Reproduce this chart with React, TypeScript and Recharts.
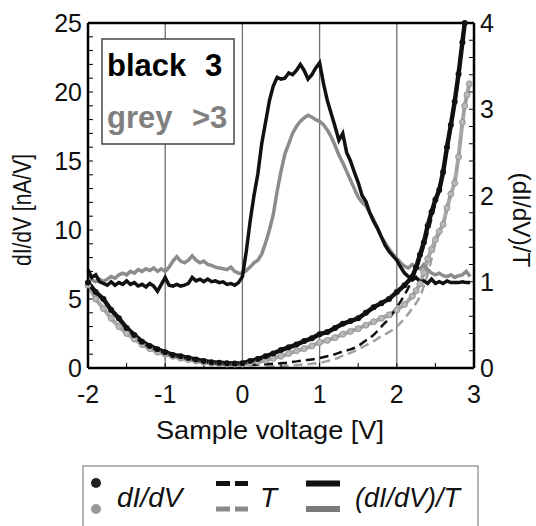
import * as React from "react";
import { LineChart, XAxis, YAxis, Line, ReferenceLine } from "recharts";

// ---- axis ticks ----
const xTicks = [-2, -1.5, -1, -0.5, 0, 0.5, 1, 1.5, 2, 2.5, 3];
const leftTicks = [0, 1, 2, 3, 4, 5, 6, 7, 8, 9, 10, 11, 12, 13, 14, 15, 16, 17, 18, 19, 20, 21, 22, 23, 24, 25];
const rightTicks = [0, 0.2, 0.4, 0.6, 0.8, 1, 1.2, 1.4, 1.6, 1.8, 2, 2.2, 2.4, 2.6, 2.8, 3, 3.2, 3.4, 3.6, 3.8, 4];
const gridX = [-1, 0, 1, 2];

// ---- (dI/dV)/T, right axis ----
const ratioV = [
  -2, -1.95, -1.9, -1.85, -1.8, -1.75, -1.7, -1.65, -1.6, -1.55, -1.5, -1.45, -1.4, -1.35, -1.3, -1.25, -1.2, -1.15, -1.1, -1.05,
  -1, -0.95, -0.9, -0.85, -0.8, -0.75, -0.7, -0.65, -0.6, -0.55, -0.5, -0.45, -0.4, -0.35, -0.3, -0.25, -0.2, -0.15, -0.1, -0.05,
  0, 0.05, 0.1, 0.15, 0.2, 0.25, 0.3, 0.35, 0.4, 0.45, 0.5, 0.55, 0.6, 0.65, 0.7, 0.75, 0.8, 0.85, 0.9, 0.95,
  1, 1.05, 1.1, 1.15, 1.2, 1.25, 1.3, 1.35, 1.4, 1.45, 1.5, 1.55, 1.6, 1.65, 1.7, 1.75, 1.8, 1.85, 1.9, 1.95,
  2, 2.05, 2.1, 2.15, 2.2, 2.25, 2.3, 2.35, 2.4, 2.45, 2.5, 2.55, 2.6, 2.65, 2.7, 2.75, 2.8, 2.85, 2.9, 2.95,
];
const ratioBlack = [
  1.14, 1.05, 1.08, 1.0, 0.98, 0.96, 1.0, 0.96, 0.99, 0.97, 1.01, 0.97, 0.99, 0.95, 0.97, 0.94, 0.98, 0.95, 0.89, 0.97,
  1.05, 0.96, 0.95, 0.97, 0.95, 0.96, 0.98, 1.05, 1.01, 1.03, 1.0, 1.03, 1.0, 1.01, 0.99, 1.0, 0.97, 0.98, 0.96, 0.99,
  1.06, 1.35, 1.7, 2.0, 2.25, 2.6, 2.85, 3.1, 3.27, 3.37, 3.35, 3.36, 3.42, 3.4, 3.45, 3.52, 3.45, 3.35, 3.4, 3.48,
  3.54, 3.3, 3.1, 2.95, 2.8, 2.64, 2.72, 2.5, 2.4, 2.27, 2.15, 2.0, 1.93, 1.8, 1.7, 1.62, 1.52, 1.42, 1.35, 1.3,
  1.25, 1.17, 1.1, 1.06, 1.02, 1.05, 1.0, 1.01, 0.98, 1.03, 0.98, 1.0, 0.98, 1.01, 0.99, 0.99, 0.99, 1.0, 0.99, 0.99,
];
const ratioGrey = [
  1.12, 1.02, 1.0, 1.03, 1.0, 1.03, 1.06, 1.04, 1.08, 1.1, 1.08, 1.12, 1.1, 1.14, 1.12, 1.15, 1.13, 1.16, 1.12, 1.15,
  1.12, 1.17, 1.24, 1.29, 1.24, 1.22, 1.25, 1.3, 1.25, 1.22, 1.24, 1.2, 1.19, 1.17, 1.16, 1.15, 1.14, 1.17, 1.12, 1.1,
  1.1, 1.13, 1.17, 1.22, 1.25, 1.32, 1.45, 1.6, 1.78, 2.05, 2.28, 2.48, 2.6, 2.72, 2.8, 2.86, 2.9, 2.93, 2.91, 2.88,
  2.86, 2.82, 2.76, 2.68, 2.58, 2.47, 2.38, 2.28, 2.18, 2.08, 1.98, 1.92, 1.88, 1.8, 1.72, 1.62, 1.52, 1.45, 1.38, 1.32,
  1.27, 1.22, 1.18, 1.16, 1.2, 1.17, 1.15, 1.2, 1.14, 1.1, 1.08, 1.1, 1.07, 1.06, 1.08, 1.05, 1.07, 1.08, 1.12, 1.06,
];

// ---- dI/dV, left axis ----
const didvV = [
  -2, -1.9, -1.8, -1.7, -1.6, -1.5, -1.4, -1.3, -1.2, -1.1, -1, -0.9, -0.8, -0.7, -0.6, -0.5, -0.4, -0.3, -0.2, -0.1,
  0, 0.1, 0.2, 0.3, 0.4, 0.5, 0.6, 0.7, 0.8, 0.9, 1, 1.1, 1.2, 1.3, 1.4, 1.5, 1.6, 1.7, 1.8, 1.9, 2, 2.1, 2.2,
  2.25, 2.3, 2.35, 2.4, 2.45, 2.5, 2.55, 2.6, 2.65, 2.7, 2.75, 2.8, 2.85, 2.88, 2.91, 2.94,
];
const didvBlack = [
  6.2, 5.5, 5.0, 4.2, 3.6, 2.9, 2.4, 1.9, 1.6, 1.35, 1.15, 0.95, 0.85, 0.72, 0.62, 0.5, 0.42, 0.38, 0.35, 0.33,
  0.35, 0.5, 0.65, 0.85, 1.05, 1.3, 1.5, 1.7, 1.95, 2.15, 2.45, 2.6, 2.9, 3.2, 3.4, 3.6, 4.0, 4.4, 4.7, 5.0, 5.5, 6.0, 6.6,
  7.3, 8.2, 9.1, 10.3, 11.3, 12.2, 12.9, 14.2, 16.0, 17.6, 19.3, 21.3, 23.6, 25, null, null,
];
const didvGrey = [
  6.0, 5.0, 4.3, 3.6, 3.0, 2.5, 2.1, 1.7, 1.4, 1.15, 1.0, 0.85, 0.7, 0.6, 0.5, 0.42, 0.35, 0.3, 0.28, 0.27,
  0.28, 0.35, 0.45, 0.55, 0.7, 0.85, 1.05, 1.25, 1.4, 1.6, 1.85, 2.0, 2.2, 2.45, 2.65, 2.85, 3.1, 3.35, 3.6, 3.85, 4.2, 4.6, 5.2,
  5.6, 6.1, 6.9, 7.9, 8.6, 9.3, 9.9, 10.4, 11.6, 12.6, 13.4, 15.3, 17.8, 19.0, 19.8, 20.6,
];

// ---- T, left axis ----
const tV = [
  0.1, 0.2, 0.3, 0.4, 0.5, 0.6, 0.7, 0.8, 0.9, 1, 1.1, 1.2, 1.3, 1.4, 1.5, 1.6, 1.7, 1.8, 1.9, 2,
  2.1, 2.2, 2.3, 2.4, 2.5, 2.6, 2.7, 2.8, 2.85, 2.88, 2.91, 2.94,
];
const tBlack = [
  0.2, 0.25, 0.28, 0.3, 0.35, 0.4, 0.48, 0.55, 0.62, 0.72, 0.85, 1.0, 1.2, 1.35, 1.6, 2.0, 2.4, 3.0, 3.6, 4.4,
  5.3, 6.4, 7.9, 9.8, 11.9, 14.2, 17.4, 21.1, 23.5, 25, null, null,
];
const tGrey = [
  null, null, 0.1, 0.12, 0.15, 0.18, 0.22, 0.26, 0.3, 0.38, 0.5, 0.65, 0.9, 1.1, 1.35, 1.65, 1.95, 2.3, 2.6, 3.0,
  3.6, 4.3, 5.2, 6.8, 9.0, 10.4, 12.6, 15.3, 17.8, 19.0, 19.8, 20.6,
];

const zip = (xs: number[], ys: (number | null)[]) => xs.map((x, i) => ({ x, y: ys[i] }));

const FONT = "'Liberation Sans', Arial, Helvetica, sans-serif";
const isInt = (v: number) => Math.abs(v - Math.round(v)) < 1e-9;

function LeftTick(props: any) {
  const { x, y, payload } = props;
  if (payload.value % 5 !== 0) return <g />;
  return (
    <text x={x} y={y} dy="0.36em" textAnchor="end" fontSize={25} fill="#111" fontFamily={FONT}>
      {payload.value}
    </text>
  );
}

function RightTick(props: any) {
  const { x, y, payload } = props;
  if (!isInt(payload.value)) return <g />;
  return (
    <text x={x} y={y} dy="0.36em" textAnchor="start" fontSize={25} fill="#111" fontFamily={FONT}>
      {payload.value}
    </text>
  );
}

function BottomTick(props: any) {
  const { x, y, payload } = props;
  if (!isInt(payload.value)) return <g />;
  return (
    <text x={x} y={y} dy="0.71em" textAnchor="middle" fontSize={25} fill="#111" fontFamily={FONT}>
      {payload.value}
    </text>
  );
}

const axisStroke = { stroke: "#000", strokeWidth: 2.5 };
const tickStroke = { stroke: "#000", strokeWidth: 1 };

export default function App() {
  return (
    <div style={{ position: "absolute", left: 0, top: 0, width: 536, height: 526, background: "#fff", fontFamily: FONT }}>
      <LineChart width={536} height={526} margin={{ top: 23, right: 0, bottom: 98, left: 0 }}>
        <XAxis
          dataKey="x"
          type="number"
          domain={[-2, 3]}
          ticks={xTicks}
          interval={0}
          height={60}
          tickSize={-5}
          tickMargin={22}
          axisLine={axisStroke}
          tickLine={tickStroke}
          tick={BottomTick}
        />
        <YAxis
          yAxisId="left"
          type="number"
          domain={[0, 25]}
          ticks={leftTicks}
          interval={0}
          width={88}
          tickSize={-5}
          tickMargin={11}
          axisLine={axisStroke}
          tickLine={tickStroke}
          tick={LeftTick}
        />
        <YAxis
          yAxisId="right"
          orientation="right"
          type="number"
          domain={[0, 4]}
          ticks={rightTicks}
          interval={0}
          width={62}
          tickSize={-5}
          tickMargin={11}
          axisLine={axisStroke}
          tickLine={tickStroke}
          tick={RightTick}
        />

        {gridX.map((v) => (
          <ReferenceLine key={`g${v}`} x={v} yAxisId="left" stroke="#6e6e6e" strokeWidth={1.3} />
        ))}
        <ReferenceLine y={25} yAxisId="left" stroke="#000" strokeWidth={2.5} />

        <Line
          yAxisId="left"
          data={zip(didvV, didvGrey)}
          dataKey="y"
          type="linear"
          stroke="#a8a8a8"
          strokeWidth={4}
          dot={{ r: 3, fill: "#b8b8b8", stroke: "#8a8a8a", strokeWidth: 0.8 }}
          isAnimationActive={false}
        />
        <Line
          yAxisId="left"
          data={zip(didvV, didvBlack)}
          dataKey="y"
          type="linear"
          stroke="#111"
          strokeWidth={4.5}
          dot={{ r: 3, fill: "#111", stroke: "none" }}
          isAnimationActive={false}
        />
        <Line
          yAxisId="left"
          data={zip(tV, tGrey)}
          dataKey="y"
          type="monotone"
          stroke="#a0a0a0"
          strokeWidth={2.5}
          strokeDasharray="9 5"
          dot={false}
          isAnimationActive={false}
        />
        <Line
          yAxisId="left"
          data={zip(tV, tBlack)}
          dataKey="y"
          type="monotone"
          stroke="#111"
          strokeWidth={2.5}
          strokeDasharray="9 5"
          dot={false}
          isAnimationActive={false}
        />
        <Line
          yAxisId="right"
          data={zip(ratioV, ratioGrey)}
          dataKey="y"
          type="linear"
          stroke="#8c8c8c"
          strokeWidth={3.5}
          dot={false}
          isAnimationActive={false}
        />
        <Line
          yAxisId="right"
          data={zip(ratioV, ratioBlack)}
          dataKey="y"
          type="linear"
          stroke="#111"
          strokeWidth={3.5}
          dot={false}
          isAnimationActive={false}
        />
      </LineChart>

      {/* titles, inner note box and bottom legend */}
      <svg width={536} height={526} style={{ position: "absolute", left: 0, top: 0, pointerEvents: "none" }} fontFamily={FONT}>
        <text x={270} y={439} textAnchor="middle" fontSize={25} fill="#111" textLength={228} lengthAdjust="spacingAndGlyphs">
          Sample voltage [V]
        </text>
        <text transform="translate(31,210) rotate(-90)" textAnchor="middle" fontSize={25} fill="#111" textLength={112} lengthAdjust="spacingAndGlyphs">
          dI/dV [nA/V]
        </text>
        <text transform="translate(513,220) rotate(90)" textAnchor="middle" fontSize={23} fill="#111" textLength={95} lengthAdjust="spacingAndGlyphs">
          (dI/dV)/T
        </text>

        <rect x={102} y={39} width={132} height={105} fill="#fff" stroke="#444" strokeWidth={1.5} />
        <text x={107} y={76} fontSize={31} fontWeight="bold" fill="#000">black</text>
        <text x={205} y={76} fontSize={31} fontWeight="bold" fill="#000">3</text>
        <text x={107} y={128} fontSize={31} fontWeight="bold" fill="#808080">grey</text>
        <text x={192} y={128} fontSize={31} fontWeight="bold" fill="#808080">&gt;3</text>

        <rect x={83} y={466} width={395} height={80} fill="#fff" stroke="#9a9a9a" strokeWidth={1.5} />
        <circle cx={96} cy={483} r={5} fill="#222" />
        <circle cx={96} cy={509} r={5} fill="#9a9a9a" />
        <text x={117} y={507} fontSize={28} fontStyle="italic" fill="#111">dI/dV</text>
        <line x1={216} x2={230} y1={483.5} y2={483.5} stroke="#111" strokeWidth={5} />
        <line x1={235} x2={248} y1={483.5} y2={483.5} stroke="#111" strokeWidth={5} />
        <line x1={216} x2={230} y1={509} y2={509} stroke="#8a8a8a" strokeWidth={5} />
        <line x1={235} x2={248} y1={509} y2={509} stroke="#8a8a8a" strokeWidth={5} />
        <text x={260} y={507} fontSize={28} fontStyle="italic" fill="#111">T</text>
        <line x1={306} x2={340} y1={483.5} y2={483.5} stroke="#111" strokeWidth={6} />
        <line x1={306} x2={340} y1={509} y2={509} stroke="#7a7a7a" strokeWidth={6} />
        <text x={355} y={507} fontSize={28} fontStyle="italic" fill="#111" textLength={105} lengthAdjust="spacingAndGlyphs">
          (dI/dV)/T
        </text>
      </svg>
    </div>
  );
}
